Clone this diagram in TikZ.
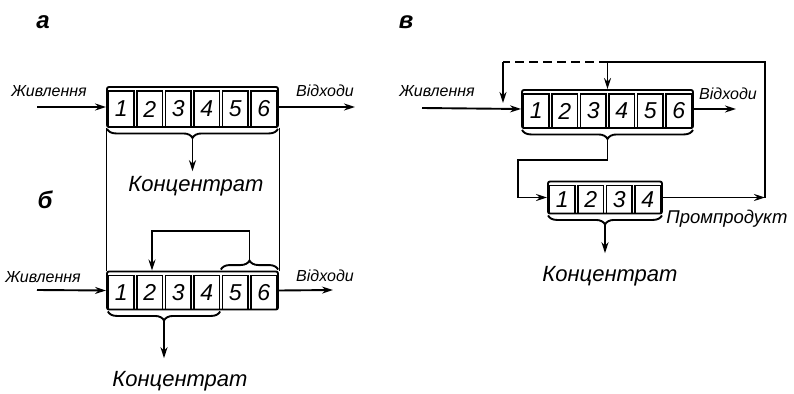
\documentclass[tikz,border=0pt]{standalone}
\usepackage{fontspec}
\setmainfont{Liberation Sans}
\usetikzlibrary{arrows.meta,decorations.pathreplacing,calc}
\begin{document}
\begin{tikzpicture}[x=1pt,y=-1pt,
  line width=1.9pt,
  frame/.style={draw, line width=1.9pt, rounded corners=2pt, inner sep=0pt},
  cell/.style={draw, line width=1.3pt, minimum width=25.5pt, inner sep=0pt,
    font=\fontsize{23}{23}\selectfont\itshape},
  flow/.style={-{Stealth[length=11pt,width=7pt]}},
  lbl/.style={font=\fontsize{16}{16}\selectfont\itshape, inner sep=0pt},
  prod/.style={font=\fontsize{22}{22}\selectfont\itshape, inner sep=0pt},
  tag/.style={font=\fontsize{24}{24}\selectfont\bfseries\itshape, inner sep=0pt},
  bracedown/.style={decorate, decoration={brace, amplitude=9pt, mirror}},
  braceup/.style={decorate, decoration={brace, amplitude=9pt}},
  guide/.style={line width=0.8pt},
  recycle/.style={dash pattern=on 9pt off 5pt}
]
\useasboundingbox (0,0) rectangle (794,393);

% ---------- scheme a ----------
\node[tag] (ta) at (43,22) {а};
\node[frame, minimum width=171pt, minimum height=40pt] (A) at (192.5,107) {};
\foreach \i in {1,...,6}
  \node[cell, minimum height=36pt] (a\i) at ({107+28.5*(\i-0.5)},109) {\i};
\node[lbl] (fa) at (49,91) {Живлення};
\node[lbl] (wa) at (325,91) {Відходи};
\coordinate (ina) at (37,107);
\coordinate (outa) at (355,107);
\draw[flow] (ina) -- (A.west);
\draw[flow] (A.east) -- (outa);
\draw[bracedown] ($(A.south west)+(1,1)$) -- ($(A.south east)+(-1,1)$);
\coordinate (tipa) at ($(A.south)+(0,10)$);
\node[prod] (ka) at (196,186) {Концентрат};
\draw[flow] (tipa) -- ($(tipa |- ka.north)+(0,-4)$);

% ---------- scheme б ----------
\node[tag] (tb) at (45,200) {б};
\node[frame, minimum width=171pt, minimum height=38pt] (B) at (192.5,290.5) {};
\foreach \i in {1,...,6}
  \node[cell, minimum height=34pt] (b\i) at ({107+28.5*(\i-0.5)},292.5) {\i};
\draw[guide] (A.south west) -- (B.north west);
\draw[guide] (A.south east) -- (B.north east);
\node[lbl] (fb) at (43,277) {Живлення};
\node[lbl] (wb) at (325,276) {Відходи};
\coordinate (inb) at (37,290);
\coordinate (outb) at (333,290);
\draw[flow] (inb) -- (B.west);
\draw[flow] (B.east) -- (outb);
% tailings of cells 5-6 returned to cell 2
\draw[braceup] ($(B.north -| b5.west)+(-1,-1)$) -- ($(B.north -| b6.east)+(1,-1)$);
\coordinate (tipb) at ($(B.north -| b5.west)!0.5!(B.north -| b6.east)+(0,-10)$);
\coordinate (rb) at (152,231);
\draw[flow] (tipb) -- (tipb |- rb) -- (rb) -- (B.north -| rb);
% concentrate of cells 1-4
\draw[bracedown] ($(B.south -| b1.west)+(0,1)$) -- ($(B.south -| b4.east)+(0,1)$);
\coordinate (tipk) at ($(B.south -| b1.west)!0.5!(B.south -| b4.east)+(0,10)$);
\node[prod] (kb) at (180,381) {Концентрат};
\draw[flow] (tipk) -- ($(tipk |- kb.north)+(0,-12)$);

% ---------- scheme в ----------
\node[tag] (tc) at (406,22) {в};
\node[frame, minimum width=171pt, minimum height=38pt] (C) at (607.5,109) {};
\foreach \i in {1,...,6}
  \node[cell, minimum height=34pt] (c\i) at ({522+28.5*(\i-0.5)},111) {\i};
\node[frame, minimum width=114pt, minimum height=32pt] (D) at (605,197.5) {};
\foreach \i in {1,...,4}
  \node[cell, minimum height=28pt] (d\i) at ({548+28.5*(\i-0.5)},199.5) {\i};
\node[lbl] (fc) at (437,91) {Живлення};
\node[lbl] (wc) at (728,94) {Відходи};
\node[prod] (kc) at (610,276) {Концентрат};
\node[font=\fontsize{18.5}{18.5}\selectfont\itshape, inner sep=0pt] (pc) at (727,219) {Промпродукт};
\coordinate (inc) at (422,108);
\coordinate (outc) at (736,109);
\draw[flow] (inc) -- (C.west);
\draw[flow] (C.east) -- (outc);
% concentrate of the first stage to the cleaner
\draw[bracedown] ($(C.south west)+(1,1)$) -- ($(C.south east)+(-1,1)$);
\coordinate (tipc) at ($(C.south)+(0,10)$);
\coordinate (k1) at (518,160);
\draw[flow] (tipc) |- (k1) |- (D.west);
% middlings returned
\coordinate (sep) at ($(c3.east)!0.5!(c4.west)$);
\coordinate (rr) at (765,197.5);
\coordinate (rt) at (765,62);
\coordinate (lt) at (503,62);
\coordinate (lb) at (503,103);
\draw[flow] (D.east) -- (rr);
\draw[flow] (rr) -- (rt) -| (C.north -| sep);
\draw[recycle] (rt -| sep) -- (lt);
\draw[flow] (lt) -- (lb);
% final concentrate
\draw[bracedown] ($(D.south west)+(1,1)$) -- ($(D.south east)+(-1,1)$);
\coordinate (tipd) at ($(D.south)+(0,10)$);
\draw[flow] (tipd) -- ($(tipd |- kc.north)+(0,-12)$);
\end{tikzpicture}
\end{document}
